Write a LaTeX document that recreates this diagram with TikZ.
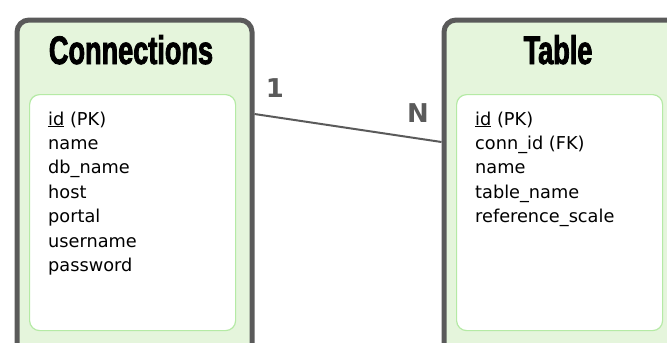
\documentclass[tikz,border=0pt]{standalone}
\usepackage{fontspec}
\setmainfont{DejaVu Sans}
\newfontfamily\headfont[FakeStretch=0.68, BoldFeatures={FakeBold=2}]{Liberation Sans}
\usetikzlibrary{calc}
\definecolor{frame}{HTML}{5A5A5A}
\definecolor{panel}{HTML}{E5F5DC}
\definecolor{rim}{HTML}{B5EAA5}
\tikzset{
  entity/.style={draw=frame, line width=5bp, fill=panel, rounded corners=12bp,
    inner sep=0, anchor=north west},
  fieldbox/.style={draw=rim, line width=1.2bp, fill=white, rounded corners=10bp,
    inner sep=0, anchor=north west, minimum width=206bp, minimum height=236bp},
  heading/.style={font=\headfont\bfseries\fontsize{40}{44}\selectfont, text=black,
    anchor=base, inner sep=0},
  field/.style={font=\fontsize{17.8}{21}\selectfont, anchor=base west, inner sep=0},
  card/.style={font=\bfseries\fontsize{26}{30}\selectfont, text=frame,
    anchor=base, inner sep=0},
  rel/.style={draw=frame, line width=2bp}
}
\begin{document}
\begin{tikzpicture}[x=1bp, y=-1bp]
\useasboundingbox (0,0) rectangle (667,342);
\begin{scope}
\clip (0,0) rectangle (667,342);
% entity frames
\node[entity, minimum width=235bp, minimum height=360bp] (conn) at (14.5,17.5) {};
\node[entity, minimum width=260bp, minimum height=360bp] (tbl) at (441.5,17.5) {};
% white attribute panels
\node[fieldbox] (connfields) at (29,94) {};
\node[fieldbox] (tblfields) at (456,94) {};
% relationship line
\draw[rel] ($(conn.north east)+(0,96.5)$) coordinate (relA)
  -- ($(tbl.north west)+(0,124.5)$) coordinate (relB);
\end{scope}
% headings
\node[heading] (connhead) at (131,64) {Connections};
\node[heading] (tblhead) at (558,64) {Table};
% attributes of Connections
\foreach \t [count=\i] in {{\underline{id} (PK)},name,db\_name,host,portal,username,password}
  \node[field] (cf\i) at (48,{125+24.4*(\i-1)}) {\t};
% attributes of Table
\foreach \t [count=\i] in {{\underline{id} (PK)},conn\_id (FK),name,table\_name,reference\_scale}
  \node[field] (tf\i) at (475,{125+24.4*(\i-1)}) {\t};
% cardinalities
\node[card] (one) at (275,97) {1};
\node[card] (many) at (418,122) {N};
\end{tikzpicture}
\end{document}
